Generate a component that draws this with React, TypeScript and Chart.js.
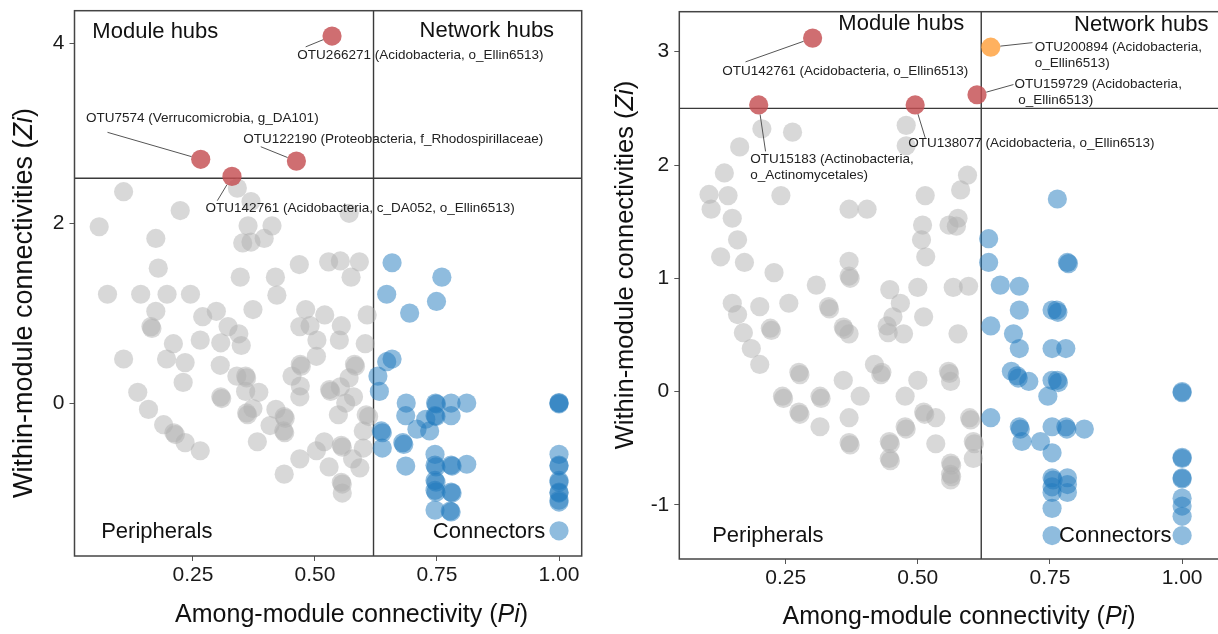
import React, { useEffect, useRef } from "react";
import { Chart, registerables } from "chart.js";

Chart.register(...registerables);

const FONT = '"Liberation Sans", Arial, Helvetica, sans-serif';

// ---------- thresholds & ticks ----------
const piThreshold = 0.62;
const ziThreshold = 2.5;
const xTickValues = [0.25, 0.5, 0.75, 1.0];
const leftYTickValues = [0, 2, 4];
const rightYTickValues = [-1, 0, 1, 2, 3];

// ---------- left network: [Pi, Zi] ----------
const leftPeripherals: number[][] = [
  [0.108, 2.35], [0.341, 2.39], [0.369, 2.24], [0.224, 2.14], [0.058, 1.96], [0.57, 2.11],
  [0.363, 1.97], [0.412, 1.97], [0.174, 1.83], [0.352, 1.78], [0.369, 1.79], [0.396, 1.83],
  [0.468, 1.54], [0.528, 1.57], [0.552, 1.58], [0.591, 1.57], [0.179, 1.5], [0.347, 1.4],
  [0.419, 1.4], [0.574, 1.4], [0.075, 1.21], [0.143, 1.21], [0.197, 1.21], [0.245, 1.21],
  [0.422, 1.2], [0.174, 1.02], [0.27, 0.96], [0.298, 1.02], [0.373, 1.04], [0.481, 1.04],
  [0.52, 0.98], [0.607, 0.98], [0.164, 0.85], [0.166, 0.83], [0.322, 0.85], [0.344, 0.77],
  [0.469, 0.85], [0.49, 0.86], [0.554, 0.86], [0.21, 0.66], [0.265, 0.7], [0.307, 0.67],
  [0.349, 0.64], [0.504, 0.7], [0.55, 0.7], [0.603, 0.66], [0.108, 0.49], [0.196, 0.49],
  [0.234, 0.45], [0.306, 0.42], [0.503, 0.52], [0.47, 0.43], [0.472, 0.41], [0.581, 0.43],
  [0.583, 0.41], [0.34, 0.3], [0.358, 0.3], [0.36, 0.28], [0.453, 0.3], [0.57, 0.28],
  [0.23, 0.23], [0.137, 0.12], [0.307, 0.07], [0.309, 0.05], [0.358, 0.13], [0.385, 0.12],
  [0.47, 0.19], [0.469, 0.07], [0.53, 0.15], [0.532, 0.13], [0.552, 0.18], [0.579, 0.07],
  [0.159, -0.07], [0.36, -0.11], [0.362, -0.13], [0.373, -0.06], [0.42, -0.07], [0.437, -0.15],
  [0.439, -0.17], [0.548, -0.13], [0.563, 0.0], [0.605, -0.13], [0.61, -0.15], [0.19, -0.24],
  [0.211, -0.33], [0.214, -0.35], [0.234, -0.44], [0.265, -0.53], [0.408, -0.25], [0.436, -0.31],
  [0.438, -0.33], [0.382, -0.43], [0.519, -0.43], [0.503, -0.53], [0.554, -0.47], [0.556, -0.49],
  [0.599, -0.31], [0.599, -0.5], [0.469, -0.62], [0.577, -0.62], [0.529, -0.71], [0.592, -0.72],
  [0.437, -0.79], [0.554, -0.88], [0.556, -0.9], [0.556, -1.0],
];

const leftConnectors: number[][] = [
  [0.658, 1.56], [0.76, 1.4], [0.647, 1.21], [0.749, 1.13], [0.694, 1.0],
  [0.658, 0.49], [0.647, 0.46], [0.629, 0.3], [0.632, 0.13],
  [0.687, 0.0], [0.747, 0.0], [0.749, -0.01], [0.779, 0.0], [0.811, 0.0], [1.0, 0.0], [1.0, -0.01], [1.0, 0.005],
  [0.686, -0.14], [0.746, -0.14], [0.748, -0.15], [0.779, -0.14], [0.727, -0.18],
  [0.636, -0.31], [0.638, -0.33], [0.709, -0.29], [0.735, -0.31],
  [0.68, -0.44], [0.682, -0.46], [0.638, -0.5],
  [0.686, -0.7], [0.746, -0.57], [0.746, -0.69], [0.748, -0.71], [0.779, -0.69], [0.781, -0.7], [0.811, -0.68],
  [0.746, -0.86], [0.748, -0.88], [0.746, -0.97], [0.748, -0.99], [0.779, -0.99], [0.781, -1.0],
  [0.746, -1.19], [0.777, -1.2], [0.779, -1.21],
  [1.0, -0.57], [1.0, -0.69], [1.0, -0.7], [1.0, -0.86], [1.0, -0.88], [1.0, -0.99], [1.0, -1.0],
  [1.0, -1.08], [1.0, -1.1], [1.0, -1.42],
];

const leftModuleHubs: number[][] = [
  [0.535, 4.08], [0.266, 2.71], [0.462, 2.69], [0.33, 2.52],
];

// ---------- right network: [Pi, Zi] ----------
const rightPeripherals: number[][] = [
  [0.205, 2.32], [0.263, 2.29], [0.478, 2.35], [0.478, 2.17], [0.163, 2.16], [0.134, 1.93],
  [0.594, 1.91], [0.105, 1.74], [0.141, 1.73], [0.241, 1.73], [0.514, 1.73], [0.581, 1.78],
  [0.109, 1.61], [0.37, 1.61], [0.404, 1.61], [0.149, 1.53], [0.576, 1.53], [0.509, 1.47],
  [0.559, 1.47], [0.573, 1.46], [0.159, 1.34], [0.507, 1.34], [0.127, 1.19], [0.172, 1.14],
  [0.515, 1.19], [0.228, 1.05], [0.37, 1.15], [0.37, 1.02], [0.372, 1.0], [0.308, 0.94],
  [0.447, 0.9], [0.5, 0.92], [0.567, 0.92], [0.596, 0.93], [0.149, 0.78], [0.201, 0.75],
  [0.256, 0.78], [0.331, 0.75], [0.333, 0.73], [0.467, 0.78], [0.453, 0.66], [0.511, 0.66],
  [0.159, 0.68], [0.17, 0.52], [0.221, 0.56], [0.223, 0.54], [0.185, 0.38], [0.201, 0.24],
  [0.359, 0.57], [0.361, 0.55], [0.37, 0.51], [0.442, 0.58], [0.444, 0.52], [0.473, 0.51],
  [0.576, 0.51], [0.275, 0.17], [0.277, 0.15], [0.418, 0.24], [0.43, 0.15], [0.432, 0.17],
  [0.359, 0.1], [0.5, 0.1], [0.558, 0.18], [0.56, 0.16], [0.562, 0.09], [0.244, -0.04],
  [0.246, -0.06], [0.315, -0.04], [0.317, -0.06], [0.391, -0.04], [0.476, -0.04], [0.275, -0.18],
  [0.277, -0.2], [0.315, -0.31], [0.37, -0.23], [0.511, -0.18], [0.513, -0.2], [0.534, -0.23],
  [0.598, -0.23], [0.6, -0.25], [0.37, -0.45], [0.372, -0.47], [0.446, -0.44], [0.448, -0.46],
  [0.476, -0.31], [0.478, -0.33], [0.534, -0.46], [0.605, -0.44], [0.607, -0.46], [0.446, -0.59],
  [0.448, -0.61], [0.562, -0.63], [0.564, -0.65], [0.562, -0.73], [0.564, -0.75], [0.605, -0.59],
  [0.562, -0.78],
];

const rightConnectors: number[][] = [
  [0.764, 1.7], [0.634, 1.35], [0.634, 1.14], [0.783, 1.14], [0.785, 1.13], [0.656, 0.94], [0.692, 0.93],
  [0.692, 0.72], [0.754, 0.72], [0.763, 0.72], [0.765, 0.7], [0.638, 0.58], [0.681, 0.51],
  [0.692, 0.38], [0.754, 0.38], [0.78, 0.38],
  [0.677, 0.18], [0.688, 0.14], [0.69, 0.12], [0.71, 0.09], [0.754, 0.1], [0.764, 0.1], [0.766, 0.08], [0.746, -0.04],
  [0.638, -0.23], [0.692, -0.31], [0.694, -0.33], [0.697, -0.44], [0.732, -0.44], [0.754, -0.31], [0.78, -0.31],
  [0.782, -0.33], [0.815, -0.33],
  [0.754, -0.54], [0.754, -0.76], [0.756, -0.78], [0.754, -0.84], [0.754, -0.89], [0.783, -0.76], [0.783, -0.82],
  [0.783, -0.89], [0.754, -1.03], [0.754, -1.27],
  [1.0, 0.0], [1.0, -0.01], [1.0, -0.58], [1.0, -0.59], [1.0, -0.76], [1.0, -0.77], [1.0, -0.94], [1.0, -1.01],
  [1.0, -1.1], [1.0, -1.27],
];

const rightModuleHubs: number[][] = [
  [0.301, 3.12], [0.612, 2.62], [0.199, 2.53], [0.495, 2.53],
];
const rightNetworkHubs: number[][] = [[0.638, 3.04]];

// ---------- annotation text ----------
type HubLabel = { lines: string[]; tx: number; ty: number; lx: number; ly: number; target: number[] };
type QuadLabel = { text: string; x: number; y: number; align: CanvasTextAlign };

const leftHubLabels: HubLabel[] = [
  { lines: ["OTU266271 (Acidobacteria, o_Ellin6513)"], tx: 0.464, ty: 3.87, lx: 0.481, ly: 3.96, target: leftModuleHubs[0] },
  { lines: ["OTU7574 (Verrucomicrobia, g_DA101)"], tx: 0.031, ty: 3.17, lx: 0.075, ly: 3.01, target: leftModuleHubs[1] },
  { lines: ["OTU122190 (Proteobacteria, f_Rhodospirillaceae)"], tx: 0.353, ty: 2.93, lx: 0.389, ly: 2.85, target: leftModuleHubs[2] },
  { lines: ["OTU142761 (Acidobacteria, c_DA052, o_Ellin6513)"], tx: 0.276, ty: 2.16, lx: 0.3, ly: 2.25, target: leftModuleHubs[3] },
];

const rightHubLabels: HubLabel[] = [
  { lines: ["OTU142761 (Acidobacteria, o_Ellin6513)"], tx: 0.13, ty: 2.83, lx: 0.174, ly: 2.91, target: rightModuleHubs[0] },
  { lines: ["OTU200894 (Acidobacteria,", "o_Ellin6513)"], tx: 0.721, ty: 3.04, lx: 0.717, ly: 3.08, target: rightNetworkHubs[0] },
  { lines: ["OTU159729 (Acidobacteria,", " o_Ellin6513)"], tx: 0.683, ty: 2.71, lx: 0.681, ly: 2.71, target: rightModuleHubs[1] },
  { lines: ["OTU15183 (Actinobacteria,", "o_Actinomycetales)"], tx: 0.183, ty: 2.05, lx: 0.212, ly: 2.12, target: rightModuleHubs[2] },
  { lines: ["OTU138077 (Acidobacteria, o_Ellin6513)"], tx: 0.482, ty: 2.19, lx: 0.514, ly: 2.24, target: rightModuleHubs[3] },
];

const leftQuadLabels: QuadLabel[] = [
  { text: "Module hubs", x: 0.044, y: 4.13, align: "left" },
  { text: "Network hubs", x: 0.99, y: 4.14, align: "right" },
  { text: "Peripherals", x: 0.062, y: -1.43, align: "left" },
  { text: "Connectors", x: 0.972, y: -1.43, align: "right" },
];
const rightQuadLabels: QuadLabel[] = [
  { text: "Module hubs", x: 0.588, y: 3.245, align: "right" },
  { text: "Network hubs", x: 1.05, y: 3.24, align: "right" },
  { text: "Peripherals", x: 0.111, y: -1.275, align: "left" },
  { text: "Connectors", x: 0.98, y: -1.27, align: "right" },
];

// ---------- styling ----------
const GRAY = "rgba(178,178,178,0.5)";
const BLUE = "rgba(31,121,190,0.5)";
const RED = "rgba(196,78,82,0.82)";
const ORANGE = "rgba(255,160,60,0.82)";
const RADIUS = 9.6;

type PanelCfg = {
  canvasLeft: number;
  canvasWidth: number;
  xMin: number; xMax: number; yMin: number; yMax: number;
  yTicks: number[];
  yAxisWidth: number; xAxisHeight: number; padTop: number; padRight: number;
  gray: number[][]; blue: number[][]; red: number[][]; orange: number[][];
  quad: QuadLabel[]; hubs: HubLabel[];
  xTitleCenter: number; xTitleBaseline: number;
  yTitleBaselineX: number; yTitleCenterY: number; yTitleSize: number;
};

const leftPanel: PanelCfg = {
  canvasLeft: 0, canvasWidth: 600,
  xMin: 0.0074, xMax: 1.0465, yMin: -1.7, yMax: 4.362,
  yTicks: leftYTickValues,
  yAxisWidth: 74.5, xAxisHeight: 78, padTop: 10.7, padRight: 18.3,
  gray: leftPeripherals, blue: leftConnectors, red: leftModuleHubs, orange: [],
  quad: leftQuadLabels, hubs: leftHubLabels,
  xTitleCenter: 0.575, xTitleBaseline: 622,
  yTitleBaselineX: 31.5, yTitleCenterY: 303, yTitleSize: 27,
};

const rightPanel: PanelCfg = {
  canvasLeft: 600, canvasWidth: 635,
  xMin: 0.0488, xMax: 1.0819, yMin: -1.477, yMax: 3.353,
  yTicks: rightYTickValues,
  yAxisWidth: 79.3, xAxisHeight: 75, padTop: 11.7, padRight: 0,
  gray: rightPeripherals, blue: rightConnectors, red: rightModuleHubs, orange: rightNetworkHubs,
  quad: rightQuadLabels, hubs: rightHubLabels,
  xTitleCenter: 0.578, xTitleBaseline: 624,
  yTitleBaselineX: 33, yTitleCenterY: 265, yTitleSize: 25.5,
};

function drawMixed(ctx: CanvasRenderingContext2D, parts: [string, boolean][], size: number, cx: number, y: number) {
  const fonts = parts.map(([, it]) => `${it ? "italic " : ""}${size}px ${FONT}`);
  const widths = parts.map(([t], i) => {
    ctx.font = fonts[i];
    return ctx.measureText(t).width;
  });
  const total = widths.reduce((a, b) => a + b, 0);
  let x = cx - total / 2;
  ctx.textAlign = "left";
  parts.forEach(([t], i) => {
    ctx.font = fonts[i];
    ctx.fillText(t, x, y);
    x += widths[i];
  });
}

function makeOverlay(cfg: PanelCfg) {
  return {
    id: "overlay",
    beforeDatasetsDraw(chart: any) {
      const { ctx, chartArea: a, scales } = chart;
      const vx = scales.x.getPixelForValue(piThreshold);
      const hy = scales.y.getPixelForValue(ziThreshold);
      ctx.save();
      ctx.strokeStyle = "#3a3a3a";
      ctx.lineWidth = 1.4;
      ctx.beginPath();
      ctx.moveTo(vx, a.top);
      ctx.lineTo(vx, a.bottom);
      ctx.moveTo(a.left, hy);
      ctx.lineTo(a.right, hy);
      ctx.stroke();
      ctx.restore();
    },
    afterDatasetsDraw(chart: any) {
      const { ctx, chartArea: a, scales } = chart;
      const xs = scales.x;
      const ys = scales.y;
      ctx.save();
      // frame
      ctx.strokeStyle = "#444";
      ctx.lineWidth = 1.5;
      ctx.strokeRect(a.left, a.top, a.right - a.left, a.bottom - a.top);

      // leader lines + hub labels
      ctx.strokeStyle = "#555";
      ctx.lineWidth = 1;
      ctx.fillStyle = "#222";
      ctx.textBaseline = "middle";
      ctx.textAlign = "left";
      ctx.font = `13.5px ${FONT}`;
      cfg.hubs.forEach((h) => {
        const sx = xs.getPixelForValue(h.lx);
        const sy = ys.getPixelForValue(h.ly);
        const px = xs.getPixelForValue(h.target[0]);
        const py = ys.getPixelForValue(h.target[1]);
        const dx = sx - px;
        const dy = sy - py;
        const len = Math.sqrt(dx * dx + dy * dy) || 1;
        const ex = px + (dx / len) * RADIUS;
        const ey = py + (dy / len) * RADIUS;
        ctx.beginPath();
        ctx.moveTo(sx, sy);
        ctx.lineTo(ex, ey);
        ctx.stroke();
        const tx = xs.getPixelForValue(h.tx);
        const ty = ys.getPixelForValue(h.ty);
        h.lines.forEach((line, i) => ctx.fillText(line, tx, ty + i * 15.7));
      });

      // quadrant labels
      ctx.fillStyle = "#111";
      ctx.font = `22px ${FONT}`;
      cfg.quad.forEach((q) => {
        ctx.textAlign = q.align;
        ctx.fillText(q.text, xs.getPixelForValue(q.x), ys.getPixelForValue(q.y));
      });

      // axis titles
      ctx.fillStyle = "#111";
      ctx.textBaseline = "alphabetic";
      drawMixed(
        ctx,
        [["Among-module connectivity (", false], ["Pi", true], [")", false]],
        25,
        xs.getPixelForValue(cfg.xTitleCenter),
        cfg.xTitleBaseline
      );
      ctx.save();
      ctx.translate(cfg.yTitleBaselineX, cfg.yTitleCenterY);
      ctx.rotate(-Math.PI / 2);
      drawMixed(
        ctx,
        [["Within-module connectivities (", false], ["Zi", true], [")", false]],
        cfg.yTitleSize,
        0,
        0
      );
      ctx.restore();
      ctx.restore();
    },
  };
}

function toPoints(arr: number[][]) {
  return arr.map(([x, y]) => ({ x, y }));
}

function Panel({ cfg }: { cfg: PanelCfg }) {
  const ref = useRef<HTMLCanvasElement>(null);
  useEffect(() => {
    const canvas = ref.current;
    if (!canvas) return;
    const tickFont = { family: FONT, size: 21 };
    const chart = new Chart(canvas, {
      type: "scatter",
      data: {
        datasets: [
          { label: "Network hubs", data: toPoints(cfg.orange), backgroundColor: ORANGE, pointRadius: RADIUS, borderWidth: 0, order: 0 },
          { label: "Module hubs", data: toPoints(cfg.red), backgroundColor: RED, pointRadius: RADIUS, borderWidth: 0, order: 1 },
          { label: "Connectors", data: toPoints(cfg.blue), backgroundColor: BLUE, pointRadius: RADIUS, borderWidth: 0, order: 2 },
          { label: "Peripherals", data: toPoints(cfg.gray), backgroundColor: GRAY, pointRadius: RADIUS, borderWidth: 0, order: 3 },
        ],
      },
      options: {
        animation: false,
        responsive: false,
        maintainAspectRatio: false,
        devicePixelRatio: 1,
        layout: { padding: { left: 0, top: cfg.padTop, right: cfg.padRight, bottom: 0 } },
        plugins: { legend: { display: false }, tooltip: { enabled: false } },
        elements: { point: { hoverRadius: RADIUS, borderWidth: 0 } },
        scales: {
          x: {
            type: "linear",
            min: cfg.xMin,
            max: cfg.xMax,
            afterBuildTicks: (axis: any) => {
              axis.ticks = xTickValues.map((v) => ({ value: v }));
            },
            afterFit: (s: any) => {
              s.height = cfg.xAxisHeight;
              s.paddingLeft = 0;
              s.paddingRight = 0;
              s.paddingTop = 0;
              s.paddingBottom = 0;
            },
            ticks: {
              autoSkip: false,
              maxRotation: 0,
              padding: 2,
              color: "#1a1a1a",
              font: tickFont,
              callback: (v: any) => Number(v).toFixed(2),
            },
            grid: { display: true, drawOnChartArea: false, drawTicks: true, tickLength: 5, color: "#555", lineWidth: 1 },
            border: { display: false },
          },
          y: {
            type: "linear",
            min: cfg.yMin,
            max: cfg.yMax,
            afterBuildTicks: (axis: any) => {
              axis.ticks = cfg.yTicks.map((v) => ({ value: v }));
            },
            afterFit: (s: any) => {
              s.width = cfg.yAxisWidth;
              s.paddingLeft = 0;
              s.paddingRight = 0;
              s.paddingTop = 0;
              s.paddingBottom = 0;
            },
            ticks: {
              autoSkip: false,
              padding: 5,
              color: "#1a1a1a",
              font: tickFont,
              callback: (v: any) => String(v),
            },
            grid: { display: true, drawOnChartArea: false, drawTicks: true, tickLength: 5, color: "#555", lineWidth: 1 },
            border: { display: false },
          },
        },
      },
      plugins: [makeOverlay(cfg)],
    } as any);
    return () => chart.destroy();
  }, [cfg]);
  return (
    <canvas
      ref={ref}
      width={cfg.canvasWidth}
      height={634}
      style={{ position: "absolute", left: cfg.canvasLeft, top: 0, width: cfg.canvasWidth, height: 634 }}
    />
  );
}

export default function App() {
  return (
    <div
      style={{
        position: "fixed",
        left: 0,
        top: 0,
        width: 1218,
        height: 634,
        overflow: "hidden",
        background: "#fff",
      }}
    >
      <Panel cfg={leftPanel} />
      <Panel cfg={rightPanel} />
    </div>
  );
}
